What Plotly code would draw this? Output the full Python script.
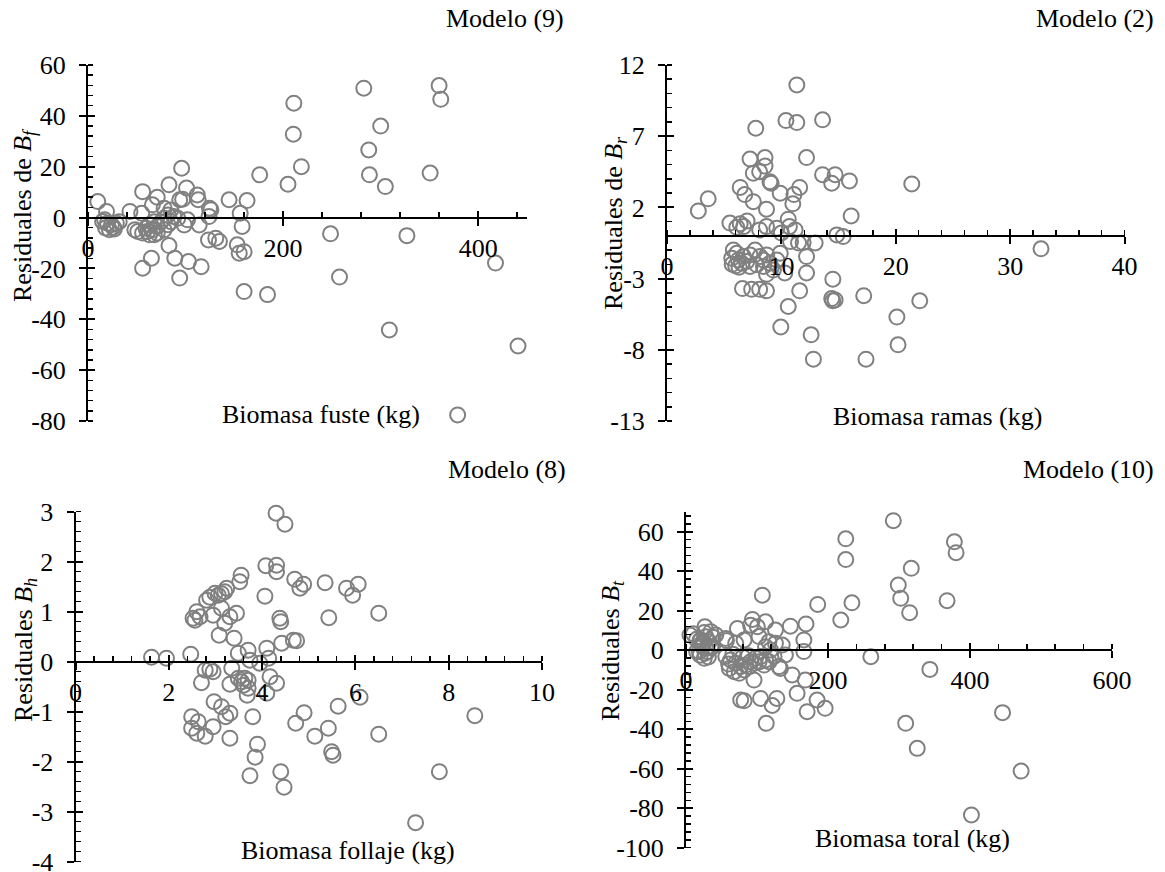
import plotly.graph_objects as go

# ---------------- data ----------------
# Panel 1: Modelo (9) - residuales de B_f vs biomasa fuste
fuste_kg = [10, 19, 17, 20, 24, 29, 32, 18, 22, 26, 15, 27,
            43, 56, 55, 48, 51, 56, 61, 66, 71, 75, 78, 82, 68, 63, 59.5, 85, 88, 78, 71, 82, 68, 63,
            66, 78, 85, 71, 94, 92, 102, 98.6, 114, 83, 96, 101, 112, 113, 97, 124.5, 126, 124,
            144.6, 163, 156, 158, 176, 205,
            65, 56, 83, 89, 103, 116, 94, 123.5, 131, 134.7, 153, 155, 160, 160, 184,
            211, 210.5, 218.7, 282.7, 300, 287.8, 288.5, 304.8, 350.7, 359.9, 361.6,
            248.6, 326.9, 417.7, 257.8, 308.9, 440.8, 378.9]
fuste_res = [6.3, 2.4, -0.9, -2.2, -2.8, -2.2, -1.6, -4.1, -4.8, -3.8, -1.5, -4.5,
             2.4, 10.2, 1.7, -4.8, -5.5, -6.1, -5.5, -4.8, -3.5, -1.6, -0.3, 1.0, -1.6, -2.8, -4.2, -1.6, 0.4, -4.8, -6.1, -2.8, -6.8, -6.8,
             5.0, 3.7, 3.0, 8.0, 7.0, -0.3, -0.9, -2.9, -2.9, 12.9, 19.4, 11.6, 8.9, 7.0, 7.2, 3.7, 3.1, 0.4,
             7.0, 6.7, 1.7, -3.5, 16.8, 13.1,
             -16.0, -19.9, -11.0, -16.0, -17.3, -19.3, -23.8, -8.8, -8.1, -9.4, -10.7, -14.0, -13.4, -29.1, -30.3,
             45.0, 32.8, 20.0, 50.9, 36.0, 26.6, 16.8, 12.2, 17.5, 51.9, 46.5,
             -6.4, -7.1, -17.9, -23.4, -44.2, -50.5, -77.6]

# Panel 2: Modelo (2) - residuales de B_r vs biomasa ramas
ramas_kg = [2.74, 3.6,
            5.5, 6.4, 6.7, 6.1, 7.0,
            6.4, 6.8, 7.55, 8.7,
            7.76, 7.26, 8.57, 8.57, 7.55, 8.1, 9.0, 9.1,
            11.35, 10.4, 11.35, 13.6, 12.2,
            13.6, 14.7, 14.4, 15.95, 11.6, 11.1, 11.0, 9.9,
            16.1, 10.6, 10.7, 11.2, 8.1, 8.7, 9.6, 10.0,
            14.85, 15.4, 10.8, 11.5, 11.9, 12.95, 12.2,
            5.66, 5.8, 6.1, 6.24, 6.53, 6.68, 6.97, 7.26, 7.7, 8.13, 8.43, 8.72, 7.85, 7.26, 8.43, 9.0, 9.6, 9.9, 5.7, 6.0, 6.3,
            10.3, 12.2, 6.6, 7.4, 8.1, 8.7, 11.6, 10.6, 14.5, 14.4, 14.7, 14.5, 17.2, 9.95, 12.6, 12.8, 17.4,
            21.4, 32.7, 22.1, 20.1, 20.2, 8.7, 9.3]
ramas_res = [1.75, 2.6,
             0.9, 0.85, 0.65, 0.6, 1.05,
             3.4, 2.9, 2.4, 1.87,
             7.56, 5.4, 5.5, 4.9, 4.4, 4.5, 3.8, 3.7,
             10.6, 8.1, 7.96, 8.15, 5.5,
             4.3, 4.3, 3.7, 3.86, 3.4, 2.9, 2.25, 3.0,
             1.4, 1.17, 0.65, 0.42, 0.42, 0.65, 0.54, 0.2,
             0.07, -0.05, -0.4, -0.5, -0.47, -0.5, -1.45,
             -1.57, -0.99, -1.22, -1.69, -1.92, -1.45, -1.8, -1.34, -0.99, -1.45, -1.69, -1.34, -2.03, -2.15, -2.15, -1.92, -1.69, -1.22, -2.0, -2.1, -2.2,
             -2.6, -2.6, -3.7, -3.75, -3.75, -3.86, -3.86, -4.96, -3.04, -4.4, -4.5, -4.55, -4.2, -6.4, -6.95, -8.66, -8.66,
             3.65, -0.91, -4.56, -5.7, -7.65, -2.7, -2.4]

# Panel 3: Modelo (8) - residuales B_h vs biomasa follaje
follaje_kg = [1.63, 1.95, 2.47,
              4.30, 4.49, 4.08, 4.31, 4.31, 3.55, 3.52, 3.24, 3.06, 2.88, 2.81, 3.13, 3.2, 2.99, 4.06, 4.70, 4.81, 4.89,
              5.35, 5.81, 6.06, 5.94, 6.5, 5.43, 4.38, 4.40,
              2.6, 2.52, 2.67, 2.56, 2.95, 3.13, 3.31, 3.45, 3.2, 3.08, 3.4, 3.49, 3.7, 4.1, 4.14, 4.42, 4.67, 4.74, 3.74, 3.95,
              2.78, 2.88, 2.95, 2.70, 3.35, 3.31, 3.49, 3.56, 3.63, 3.7, 3.6, 3.7, 4.17, 4.31, 4.1, 3.68,
              2.97, 3.13, 3.31, 3.22, 2.49, 2.63, 2.95, 2.49, 2.6, 2.78, 3.31, 3.8, 3.9, 3.85, 3.74, 4.4, 4.47,
              4.9, 4.72, 5.13, 5.42, 5.63, 6.1, 5.49, 5.52, 6.5, 8.56, 7.8, 7.29]
follaje_res = [0.09, 0.07, 0.15,
               2.97, 2.75, 1.92, 1.93, 1.8, 1.73, 1.6, 1.47, 1.33, 1.29, 1.23, 1.36, 1.4, 1.37, 1.31, 1.65, 1.47, 1.55,
               1.58, 1.47, 1.55, 1.33, 0.97, 0.88, 0.87, 0.80,
               1.0, 0.87, 0.9, 0.83, 0.93, 1.07, 0.9, 0.97, 0.77, 0.53, 0.47, 0.17, 0.23, 0.27, 0.07, 0.37, 0.43, 0.42, 0.03, -0.03,
               -0.17, -0.15, -0.2, -0.42, -0.13, -0.45, -0.33, -0.4, -0.33, -0.37, -0.47, -0.53, -0.3, -0.43, -0.63, -0.67,
               -0.8, -0.9, -1.03, -1.1, -1.1, -1.2, -1.3, -1.33, -1.43, -1.49, -1.53, -1.1, -1.65, -1.91, -2.28, -2.2, -2.51,
               -1.02, -1.23, -1.49, -1.33, -0.89, -0.71, -1.8, -1.87, -1.45, -1.08, -2.2, -3.22]

# Panel 4: Modelo (10) - residuales B_t vs biomasa total
total_kg = [5.6, 10.3, 15, 19.6, 24.3, 26.6, 25.7, 35, 42, 28, 21, 32.7, 23.4, 37.4, 30.4, 18.7, 25.7, 29, 15, 20, 35, 31.5, 38, 22, 27,
            56, 57, 70, 72.4, 81.8, 91, 93.5, 100.5, 102.8, 107.5, 112, 116.8, 126, 112, 119, 126, 135.5, 140, 147, 166, 166, 169,
            56, 63, 70, 77, 84, 91, 98, 105, 112, 61, 68, 75, 82, 89, 96, 103, 110, 117, 124, 131, 60, 66, 88, 80, 133,
            95.8, 149.5, 168, 156.5,
            77, 81.8, 105, 121.5, 128, 113, 184.6, 196, 170.6,
            185.5, 218, 225, 225, 233.7, 260.3, 292, 378, 380.4, 317.3, 299, 302.4, 315, 367.7, 343.5, 309.4, 325.7, 445.8, 472, 402]
total_res = [7.7, 8.3, 5.5, 4.9, 3.9, 11.9, 9.0, 9.4, 7.7, 6.85, 5.2, 4.3, 1.8, 1.8, -0.7, -0.7, -4.1, 1.0, -0.7, -2.5, 1.6, -3.4, 6.6, 3.0, -1.5,
             6.0, 4.9, 3.5, 11.0, 5.2, 12.7, 15.6, 11.9, 6.9, 27.9, 14.4, 4.3, 10.2, 1.8, 0.1, 3.5, 2.6, -2.4, 12.2, -0.7, 5.2, 13.3,
             -3.2, -4.9, -6.6, -8.3, -7.5, -5.8, -4.1, -3.2, -4.9, -9.2, -10.9, -11.7, -10.0, -8.3, -6.6, -5.8, -7.5, -5.8, -3.2, -8.3, -7.0, -2.0, -2.8, -3.5, -9.2,
             -15.1, -12.5, -15.1, -21.8,
             -25.2, -25.6, -24.4, -28.0, -24.4, -37.0, -25.2, -29.4, -31.1,
             23.2, 15.3, 56.4, 45.9, 24.0, -3.3, 65.6, 54.9, 49.4, 41.5, 33.0, 26.3, 19.0, 25.1, -9.7, -37.0, -49.7, -31.6, -61.2, -83.4]

# tick values
fuste_xticks = [0, 200, 400]
fuste_yticks = [60, 40, 20, 0, -20, -40, -60, -80]
ramas_xticks = [0, 10, 20, 30, 40]
ramas_yticks = [12, 7, 2, -3, -8, -13]
follaje_xticks = [0, 2, 4, 6, 8, 10]
follaje_yticks = [3, 2, 1, 0, -1, -2, -3, -4]
total_xticks = [0, 200, 400, 600]
total_yticks = [60, 40, 20, 0, -20, -40, -60, -80, -100]

# ---------------- layout ----------------
W, H = 1165, 872
FONT = "Liberation Serif"
FS = 26
GRAY = "#808080"

panels = [
    dict(x=fuste_kg, y=fuste_res, xr=[0, 450], yr=[-80, 60], xt=fuste_xticks, yt=fuste_yticks,
         xminor=40, yminor=4, dx=(88, 527), dy=(65, 421),
         xtitle="Biomasa fuste (kg)", xtpos=(321, 414),
         ytitle="Residuales de <i>B</i><sub><i>f</i></sub>", ytpos=(24, 215),
         model="Modelo (9)", mpos=(566, 18)),
    dict(x=ramas_kg, y=ramas_res, xr=[0, 40], yr=[-13, 12], xt=ramas_xticks, yt=ramas_yticks,
         xminor=2, yminor=1, dx=(667, 1124.5), dy=(65, 421),
         xtitle="Biomasa ramas (kg)", xtpos=(937, 416),
         ytitle="Residuales de <i>B</i><sub><i>r</i></sub>", ytpos=(615, 223),
         model="Modelo (2)", mpos=(1156, 18)),
    dict(x=follaje_kg, y=follaje_res, xr=[0, 10], yr=[-4, 3], xt=follaje_xticks, yt=follaje_yticks,
         xminor=0.4, yminor=0.2, dx=(75.5, 542), dy=(511.7, 861.7),
         xtitle="Biomasa follaje (kg)", xtpos=(348, 850),
         ytitle="Residuales <i>B</i><sub><i>h</i></sub>", ytpos=(25, 650),
         model="Modelo (8)", mpos=(568, 469)),
    dict(x=total_kg, y=total_res, xr=[0, 600], yr=[-100, 70], xt=total_xticks, yt=total_yticks,
         xminor=40, yminor=4, dx=(686, 1112), dy=(512, 847.7),
         xtitle="Biomasa toral (kg)", xtpos=(912, 838),
         ytitle="Residuales <i>B</i><sub><i>t</i></sub>", ytpos=(612, 651),
         model="Modelo (10)", mpos=(1156, 469)),
]

fig = go.Figure()
annotations = []
tickfont = dict(family=FONT, size=FS, color="black")

for i, p in enumerate(panels, start=1):
    xd = [p["dx"][0] / W, p["dx"][1] / W]
    yd = [1 - p["dy"][1] / H, 1 - p["dy"][0] / H]
    y0, y1 = p["yr"]
    zero_pos = yd[0] + (0 - y0) / (y1 - y0) * (yd[1] - yd[0])

    fig.add_trace(go.Scatter(
        x=p["x"], y=p["y"], mode="markers", showlegend=False, hoverinfo="skip",
        xaxis=f"x{i}", yaxis=f"y{i}",
        marker=dict(symbol="circle-open", size=15, color=GRAY, line=dict(width=2, color=GRAY)),
        cliponaxis=False,
    ))
    # invisible trace for overlay (cross ticks)
    fig.add_trace(go.Scatter(x=[], y=[], xaxis=f"x{i+4}", yaxis=f"y{i+4}", showlegend=False))

    common = dict(showgrid=False, zeroline=False, showline=True, linecolor="black", linewidth=2,
                  ticks="outside", ticklen=7, tickwidth=2, tickcolor="black", tickfont=tickfont,
                  automargin=False, ticklabeloverflow="allow")
    fig.layout[f"xaxis{i}"] = dict(
        domain=xd, range=p["xr"], anchor="free", position=zero_pos,
        tickvals=p["xt"], ticktext=[str(v) for v in p["xt"]],
        minor=dict(ticks="inside", ticklen=5, tickwidth=1.5, tickcolor="black",
                   dtick=p["xminor"], tick0=0, showgrid=False),
        **common)
    fig.layout[f"yaxis{i}"] = dict(
        domain=yd, range=p["yr"], anchor=f"x{i}",
        tickvals=p["yt"], ticktext=[str(v) for v in p["yt"]],
        minor=dict(ticks="inside", ticklen=5, tickwidth=1.5, tickcolor="black",
                   dtick=p["yminor"], tick0=0, showgrid=False),
        ticklabelstandoff=8,
        **common)
    # overlay axes for the inner half of the major (cross) ticks
    fig.layout[f"xaxis{i+4}"] = dict(
        overlaying=f"x{i}", range=p["xr"], anchor="free", position=zero_pos,
        tickvals=p["xt"], showticklabels=False, ticks="inside", ticklen=7, tickwidth=2,
        tickcolor="black", showline=False, showgrid=False, zeroline=False, automargin=False)
    fig.layout[f"yaxis{i+4}"] = dict(
        overlaying=f"y{i}", range=p["yr"], anchor=f"x{i+4}",
        tickvals=p["yt"], showticklabels=False, ticks="inside", ticklen=7, tickwidth=2,
        tickcolor="black", showline=False, showgrid=False, zeroline=False, automargin=False)

    annotations.append(dict(text=p["xtitle"], x=p["xtpos"][0] / W, y=1 - p["xtpos"][1] / H,
                            xref="paper", yref="paper", xanchor="center", yanchor="middle",
                            showarrow=False, font=dict(family=FONT, size=FS, color="black")))
    annotations.append(dict(text=p["ytitle"], x=p["ytpos"][0] / W, y=1 - p["ytpos"][1] / H,
                            xref="paper", yref="paper", xanchor="center", yanchor="middle",
                            textangle=-90, showarrow=False,
                            font=dict(family=FONT, size=FS, color="black")))
    annotations.append(dict(text=p["model"], x=p["mpos"][0] / W, y=1 - p["mpos"][1] / H,
                            xref="paper", yref="paper", xanchor="right", yanchor="middle",
                            showarrow=False, font=dict(family=FONT, size=FS, color="black")))

fig.update_layout(
    width=W, height=H, margin=dict(l=0, r=0, t=0, b=0, autoexpand=False),
    paper_bgcolor="white", plot_bgcolor="white",
    annotations=annotations, showlegend=False, hovermode=False,
)

fig.write_html(
    "out.html",
    config={"displayModeBar": False, "staticPlot": True},
    post_script="document.body.style.margin='0';document.body.style.padding='0';"
                "document.body.style.overflow='hidden';",
)
